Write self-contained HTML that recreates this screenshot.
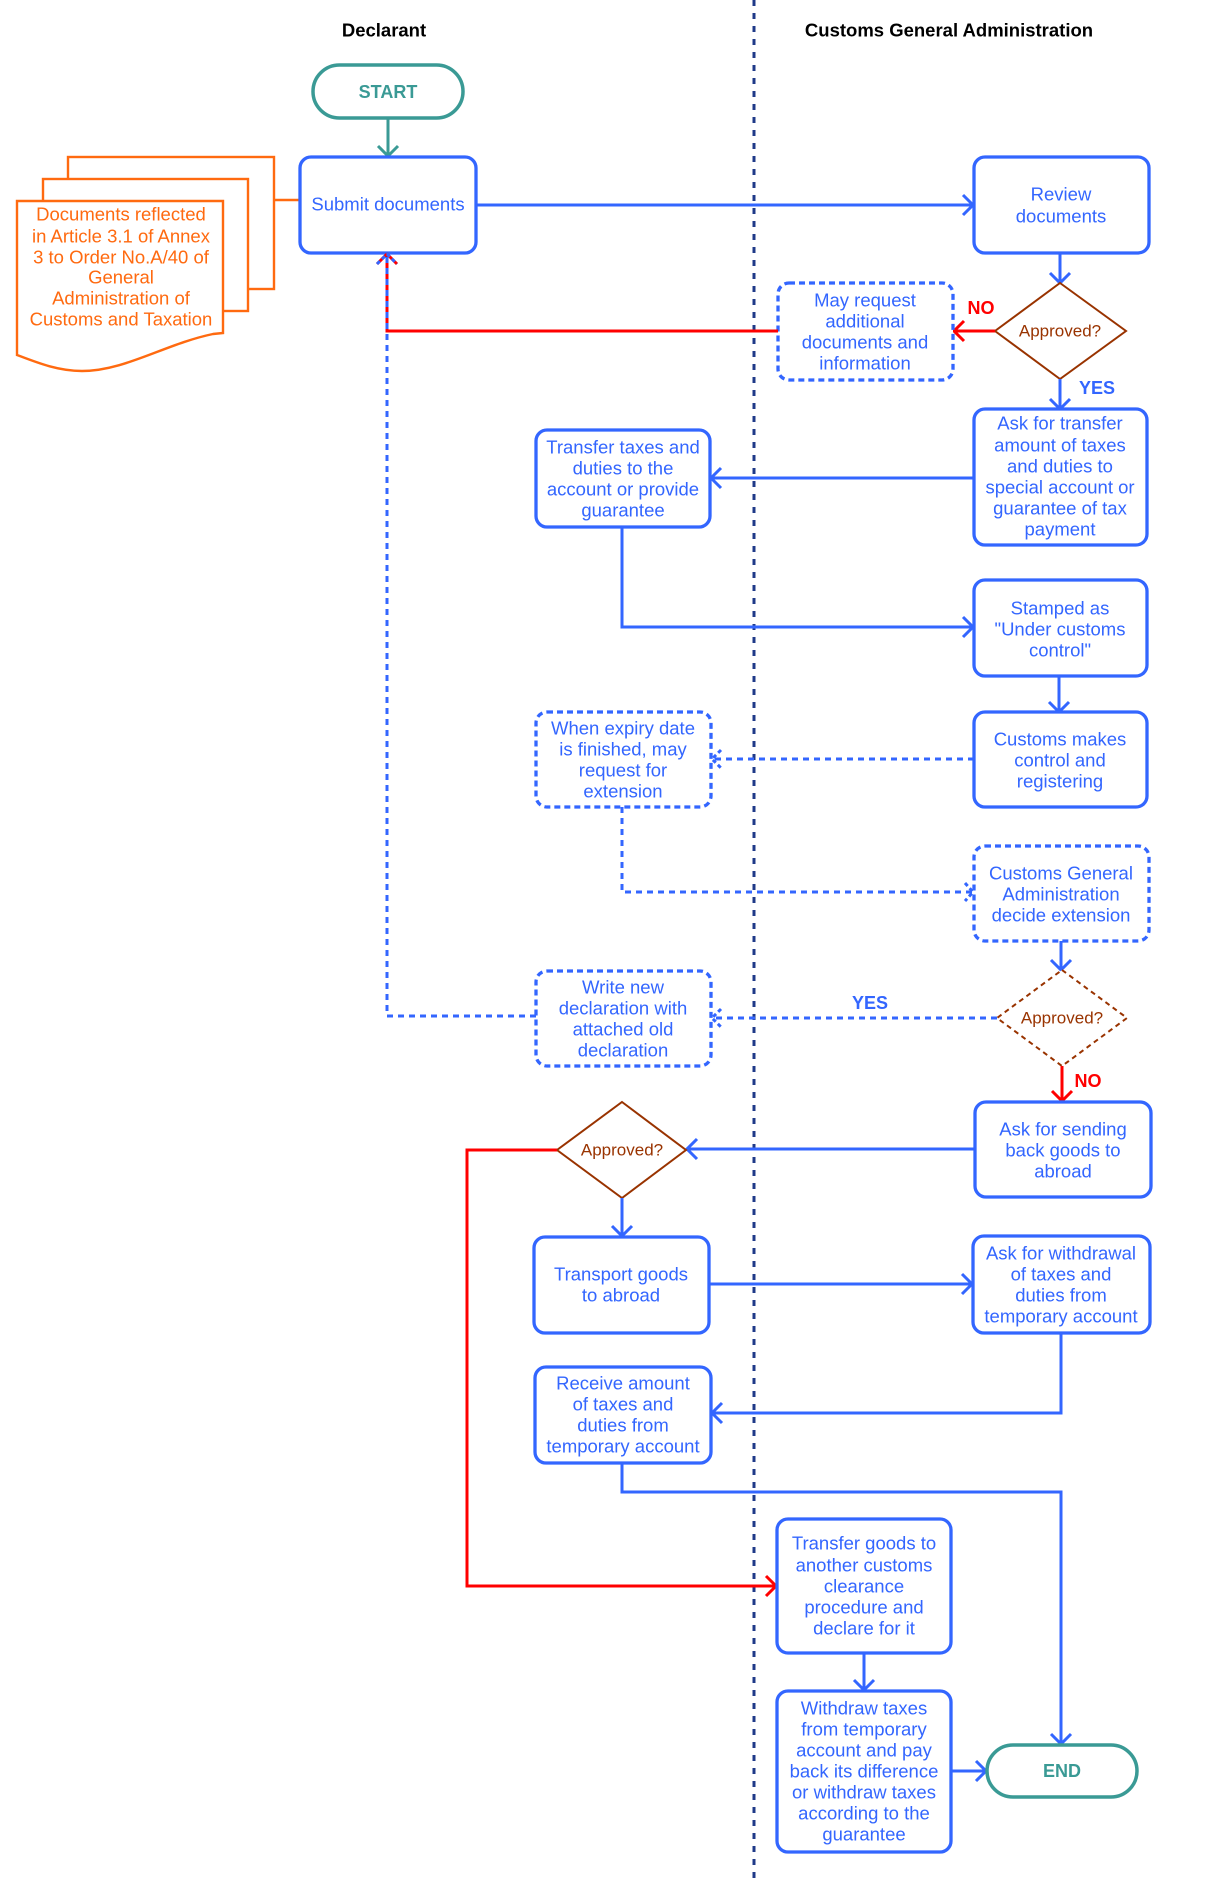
<!DOCTYPE html>
<html><head><meta charset="utf-8"><style>
html,body{margin:0;padding:0;background:#fff;}
svg{display:block;}
text{font-family:"Liberation Sans",Arial,sans-serif;}
.t{font-size:18.5px;fill:#3366ff;text-anchor:middle;dominant-baseline:central;}
.o{font-size:18.5px;fill:#ff6a10;text-anchor:middle;dominant-baseline:central;}
.h{font-size:18.5px;font-weight:bold;fill:#000;text-anchor:middle;dominant-baseline:central;}
.d{font-size:17px;fill:#993300;text-anchor:middle;dominant-baseline:central;}
.yes{font-size:18px;font-weight:bold;fill:#3366ff;text-anchor:middle;dominant-baseline:central;}
.no{font-size:18px;font-weight:bold;fill:#ff0000;text-anchor:middle;dominant-baseline:central;}
.se{font-size:18px;font-weight:bold;fill:#3a9a95;text-anchor:middle;dominant-baseline:central;}
.box{fill:#fff;stroke:#3366ff;stroke-width:3.3;}
.dbox{fill:#fff;stroke:#3366ff;stroke-width:3.3;stroke-dasharray:6 4;}
.ln{fill:none;stroke:#3366ff;stroke-width:3;}
.dl{fill:none;stroke:#3366ff;stroke-width:3;stroke-dasharray:6 5;}
.rl{fill:none;stroke:#ff0000;stroke-width:3;}
.dia{fill:#fff;stroke:#993300;stroke-width:2;}
.ddia{fill:#fff;stroke:#993300;stroke-width:2;stroke-dasharray:5 4;}
.or{fill:#fff;stroke:#ff6a10;stroke-width:2.4;}
.tl{fill:none;stroke:#3a9a95;stroke-width:3;}
</style></head><body>
<svg width="1215" height="1884" viewBox="0 0 1215 1884" xmlns="http://www.w3.org/2000/svg">
<!-- divider -->
<line x1="754" y1="0" x2="754" y2="1884" stroke="#1f3a88" stroke-width="3" stroke-dasharray="6 7"/>

<!-- headers -->
<text class="h" x="384" y="30">Declarant</text>
<text class="h" x="949" y="30">Customs General Administration</text>

<!-- START -->
<rect x="313" y="65" width="150" height="53" rx="26.5" fill="#fff" stroke="#3a9a95" stroke-width="3.5"/>
<text class="se" x="388" y="92">START</text>
<line class="tl" x1="388" y1="118" x2="388" y2="155"/>
<polyline class="tl" points="378,146 388,156 398,146"/>

<!-- Documents -->
<rect class="or" x="68" y="157" width="206" height="132"/>
<rect class="or" x="43" y="179" width="205" height="132"/>
<path class="or" d="M17,201 H223 V333 L213,334 C165,344 125,371 82,371 C58,371 38,363 17,355 Z"/>
<line x1="274" y1="200" x2="300" y2="200" stroke="#ff6a10" stroke-width="2.4"/>
<text class="o" x="121" y="214">Documents reflected</text>
<text class="o" x="121" y="236">in Article 3.1 of Annex</text>
<text class="o" x="121" y="257">3 to Order No.A/40 of</text>
<text class="o" x="121" y="277">General</text>
<text class="o" x="121" y="298">Administration of</text>
<text class="o" x="121" y="319">Customs and Taxation</text>

<!-- Submit documents -->
<rect class="box" x="300" y="157" width="176" height="96" rx="11"/>
<text class="t" x="388" y="204">Submit documents</text>

<!-- Submit -> Review -->
<line class="ln" x1="476" y1="205" x2="972" y2="205"/>
<polyline class="ln" points="963,195 973,205 963,215"/>

<!-- Review -->
<rect class="box" x="974" y="157" width="175" height="96" rx="11"/>
<text class="t" x="1061" y="194">Review</text>
<text class="t" x="1061" y="216">documents</text>

<line class="ln" x1="1060" y1="253" x2="1060" y2="282"/>
<polyline class="ln" points="1050,273 1060,283 1070,273"/>

<!-- Diamond 1 -->
<polygon class="dia" points="1060,283 1126,331 1060,379 995,331"/>
<text class="d" x="1060" y="331">Approved?</text>
<text class="no" x="981" y="308">NO</text>
<line class="rl" x1="995" y1="331" x2="955" y2="331"/>
<polyline class="rl" points="964,321 954,331 964,341"/>

<!-- May request -->
<rect class="dbox" x="778" y="283" width="175" height="97" rx="11"/>
<text class="t" x="865" y="300">May request</text>
<text class="t" x="865" y="321">additional</text>
<text class="t" x="865" y="342">documents and</text>
<text class="t" x="865" y="363">information</text>

<!-- red return to Submit -->
<polyline class="rl" points="778,331 387,331 387,255"/>
<polyline class="rl" points="377,264 387,254 397,264"/>

<!-- YES 1 -->
<text class="yes" x="1097" y="388">YES</text>
<line class="ln" x1="1060" y1="379" x2="1060" y2="408"/>
<polyline class="ln" points="1050,399 1060,409 1070,399"/>

<!-- Ask for transfer -->
<rect class="box" x="974" y="409" width="173" height="136" rx="11"/>
<text class="t" x="1060" y="423">Ask for transfer</text>
<text class="t" x="1060" y="445">amount of taxes</text>
<text class="t" x="1060" y="466">and duties to</text>
<text class="t" x="1060" y="487">special account or</text>
<text class="t" x="1060" y="508">guarantee of tax</text>
<text class="t" x="1060" y="529">payment</text>

<line class="ln" x1="974" y1="478" x2="712" y2="478"/>
<polyline class="ln" points="721,468 711,478 721,488"/>

<!-- Transfer taxes -->
<rect class="box" x="536" y="430" width="174" height="97" rx="11"/>
<text class="t" x="623" y="447">Transfer taxes and</text>
<text class="t" x="623" y="468">duties to the</text>
<text class="t" x="623" y="489">account or provide</text>
<text class="t" x="623" y="510">guarantee</text>

<polyline class="ln" points="622,527 622,627 972,627"/>
<polyline class="ln" points="963,617 973,627 963,637"/>

<!-- Stamped -->
<rect class="box" x="974" y="580" width="173" height="96" rx="11"/>
<text class="t" x="1060" y="608">Stamped as</text>
<text class="t" x="1060" y="629">"Under customs</text>
<text class="t" x="1060" y="650">control"</text>

<line class="ln" x1="1059" y1="676" x2="1059" y2="711"/>
<polyline class="ln" points="1049,702 1059,712 1069,702"/>

<!-- Customs makes -->
<rect class="box" x="974" y="712" width="173" height="95" rx="11"/>
<text class="t" x="1060" y="739">Customs makes</text>
<text class="t" x="1060" y="760">control and</text>
<text class="t" x="1060" y="781">registering</text>

<line class="dl" x1="974" y1="759" x2="713" y2="759"/>
<polyline class="dl" points="721,750 712,759 721,768" style="stroke-dasharray:4 3"/>

<!-- When expiry -->
<rect class="dbox" x="536" y="712" width="175" height="95" rx="11"/>
<text class="t" x="623" y="728">When expiry date</text>
<text class="t" x="623" y="749">is finished, may</text>
<text class="t" x="623" y="770">request for</text>
<text class="t" x="623" y="791">extension</text>

<polyline class="dl" points="622,807 622,892 972,892"/>
<polyline class="dl" points="965,883 973,892 965,901" style="stroke-dasharray:4 3"/>

<!-- Decide extension -->
<rect class="dbox" x="974" y="846" width="175" height="95" rx="11"/>
<text class="t" x="1061" y="873">Customs General</text>
<text class="t" x="1061" y="894">Administration</text>
<text class="t" x="1061" y="915">decide extension</text>

<line class="ln" x1="1061" y1="941" x2="1061" y2="969"/>
<polyline class="ln" points="1051,960 1061,970 1071,960"/>

<!-- Diamond 2 dashed -->
<polygon class="ddia" points="1062,970 1127,1018 1062,1066 997,1018"/>
<text class="d" x="1062" y="1018">Approved?</text>
<text class="yes" x="870" y="1003">YES</text>
<line class="dl" x1="997" y1="1018" x2="713" y2="1018"/>
<polyline class="dl" points="721,1009 712,1018 721,1027" style="stroke-dasharray:4 3"/>

<!-- Write new -->
<rect class="dbox" x="536" y="971" width="175" height="95" rx="11"/>
<text class="t" x="623" y="987">Write new</text>
<text class="t" x="623" y="1008">declaration with</text>
<text class="t" x="623" y="1029">attached old</text>
<text class="t" x="623" y="1050">declaration</text>

<polyline class="dl" points="536,1016 387,1016 387,256"/>
<polyline class="dl" points="377,264 387,254 397,264" style="stroke-dasharray:4 3"/>

<!-- NO 2 -->
<line class="rl" x1="1062" y1="1066" x2="1062" y2="1100"/>
<polyline class="rl" points="1052,1091 1062,1101 1072,1091"/>
<text class="no" x="1088" y="1081">NO</text>

<!-- Ask for sending -->
<rect class="box" x="975" y="1102" width="176" height="95" rx="11"/>
<text class="t" x="1063" y="1129">Ask for sending</text>
<text class="t" x="1063" y="1150">back goods to</text>
<text class="t" x="1063" y="1171">abroad</text>

<line class="ln" x1="975" y1="1149" x2="688" y2="1149"/>
<polyline class="ln" points="697,1139 687,1149 697,1159"/>

<!-- Diamond 3 -->
<polygon class="dia" points="622,1102 686,1150 622,1198 557,1150"/>
<text class="d" x="622" y="1150">Approved?</text>

<polyline class="rl" points="557,1150 467,1150 467,1586 775,1586"/>
<polyline class="rl" points="766,1576 776,1586 766,1596"/>

<line class="ln" x1="622" y1="1198" x2="622" y2="1235"/>
<polyline class="ln" points="612,1226 622,1236 632,1226"/>

<!-- Transport goods -->
<rect class="box" x="534" y="1237" width="175" height="96" rx="11"/>
<text class="t" x="621" y="1274">Transport goods</text>
<text class="t" x="621" y="1295">to abroad</text>

<line class="ln" x1="709" y1="1284" x2="971" y2="1284"/>
<polyline class="ln" points="962,1274 972,1284 962,1294"/>

<!-- Ask for withdrawal -->
<rect class="box" x="973" y="1236" width="177" height="97" rx="11"/>
<text class="t" x="1061" y="1253">Ask for withdrawal</text>
<text class="t" x="1061" y="1274">of taxes and</text>
<text class="t" x="1061" y="1295">duties from</text>
<text class="t" x="1061" y="1316">temporary account</text>

<polyline class="ln" points="1061,1333 1061,1413 713,1413"/>
<polyline class="ln" points="722,1403 712,1413 722,1423"/>

<!-- Receive amount -->
<rect class="box" x="535" y="1367" width="176" height="96" rx="11"/>
<text class="t" x="623" y="1383">Receive amount</text>
<text class="t" x="623" y="1404">of taxes and</text>
<text class="t" x="623" y="1425">duties from</text>
<text class="t" x="623" y="1446">temporary account</text>

<polyline class="ln" points="622,1463 622,1492 1061,1492 1061,1743"/>
<polyline class="ln" points="1051,1734 1061,1744 1071,1734"/>

<!-- Transfer goods to another -->
<rect class="box" x="777" y="1519" width="174" height="134" rx="11"/>
<text class="t" x="864" y="1543">Transfer goods to</text>
<text class="t" x="864" y="1565">another customs</text>
<text class="t" x="864" y="1586">clearance</text>
<text class="t" x="864" y="1607">procedure and</text>
<text class="t" x="864" y="1628">declare for it</text>

<line class="ln" x1="864" y1="1653" x2="864" y2="1689"/>
<polyline class="ln" points="854,1680 864,1690 874,1680"/>

<!-- Withdraw taxes -->
<rect class="box" x="777" y="1691" width="174" height="161" rx="11"/>
<text class="t" x="864" y="1708">Withdraw taxes</text>
<text class="t" x="864" y="1729">from temporary</text>
<text class="t" x="864" y="1750">account and pay</text>
<text class="t" x="864" y="1771">back its difference</text>
<text class="t" x="864" y="1792">or withdraw taxes</text>
<text class="t" x="864" y="1813">according to the</text>
<text class="t" x="864" y="1834">guarantee</text>

<line class="ln" x1="951" y1="1771" x2="985" y2="1771"/>
<polyline class="ln" points="976,1761 986,1771 976,1781"/>

<!-- END -->
<rect x="987" y="1745" width="150" height="52" rx="26" fill="#fff" stroke="#3a9a95" stroke-width="3.5"/>
<text class="se" x="1062" y="1771">END</text>
</svg>
</body></html>
